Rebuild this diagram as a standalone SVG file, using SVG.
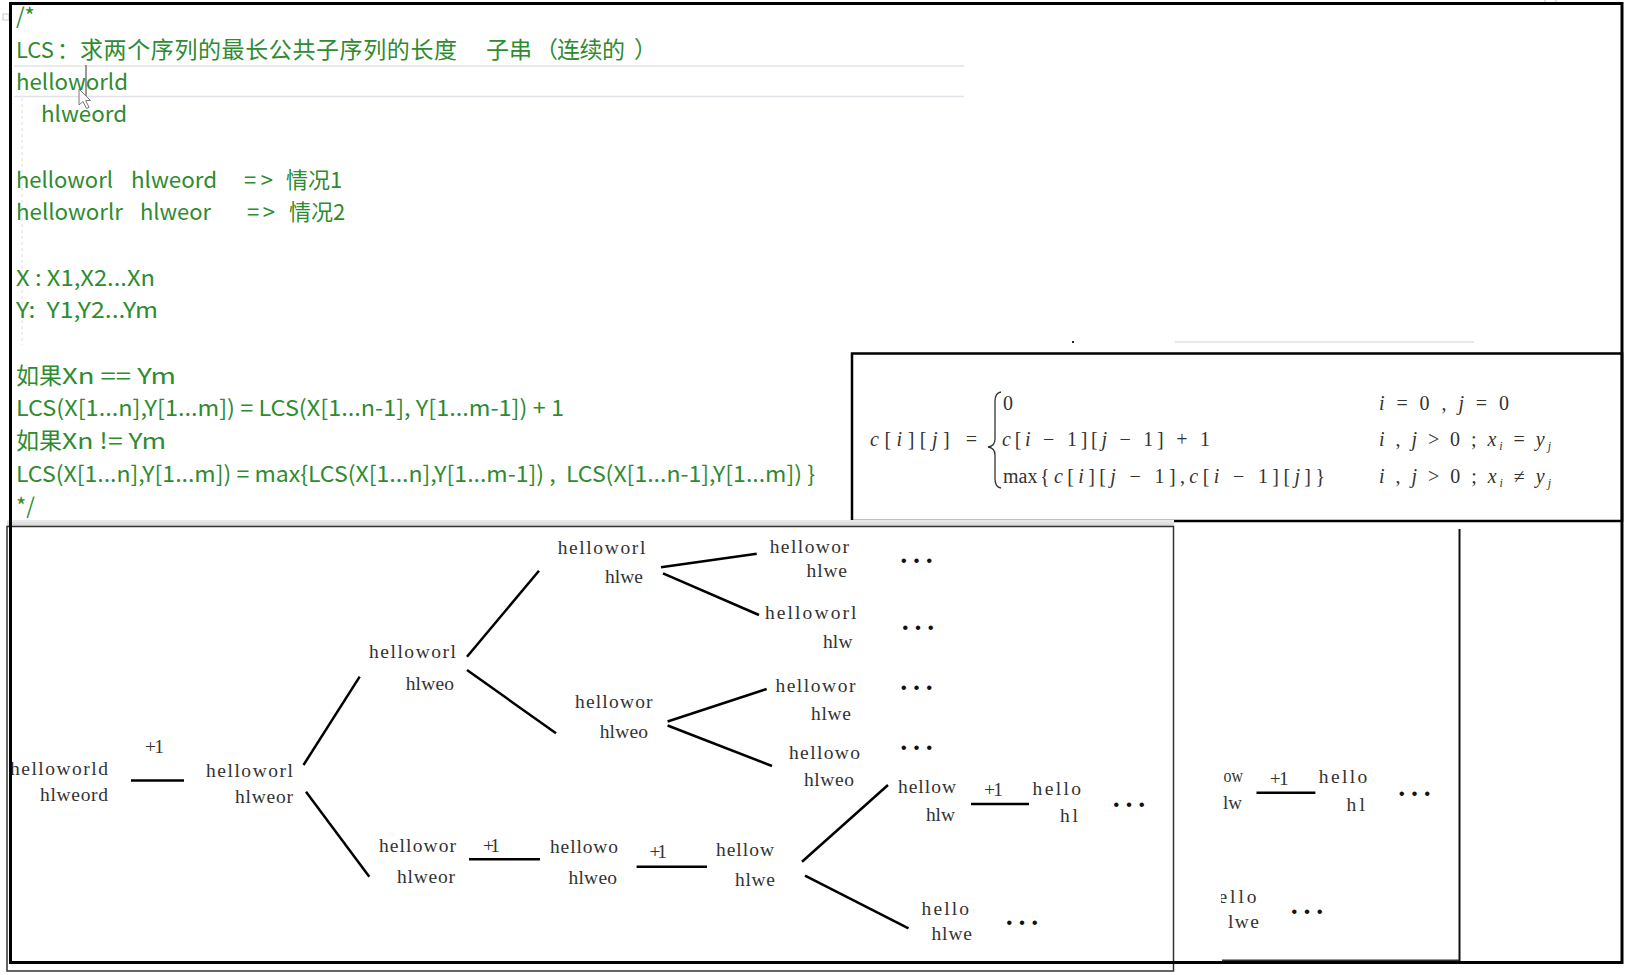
<svg xmlns="http://www.w3.org/2000/svg" width="1643" height="975" viewBox="0 0 1643 975">
<defs>
<style>
.g{fill:#2e8b30;font-family:"Noto Sans CJK SC","Noto Sans",sans-serif;font-size:22px;white-space:pre}
.c{font-size:23px}
.t{fill:#333;font-family:"Liberation Serif","Noto Sans CJK SC",serif;font-size:19.5px}
.dots{fill:#111;font-family:"Liberation Serif",serif;font-size:38px;text-anchor:middle}
.f{fill:#333;font-family:"Liberation Serif",serif;font-size:20px;white-space:pre}
.i{font-style:italic}
.e{stroke:#000;stroke-width:2.5;fill:none}
.frame{fill:none;stroke:#000}
</style>
<linearGradient id="band" x1="0" y1="0" x2="0" y2="1">
<stop offset="0" stop-color="#ececec"/>
<stop offset="1" stop-color="#d6d6d6"/>
</linearGradient>
<clipPath id="cpR"><rect x="1221" y="530" width="240" height="430"/></clipPath>
</defs>
<rect x="0" y="0" width="1643" height="975" fill="#fff"/>

<g id="editor-decor">
<line x1="14" y1="66" x2="964" y2="66" stroke="#e3e3ea" stroke-width="1.5"/>
<line x1="14" y1="96.5" x2="964" y2="96.5" stroke="#e3e3ea" stroke-width="1.5"/>
<line x1="22" y1="98" x2="22" y2="345" stroke="#dedede" stroke-width="1" stroke-dasharray="3 3"/>
<rect x="3" y="14" width="6" height="6" fill="none" stroke="#c8c8c8" stroke-width="1"/>
<line x1="86" y1="65" x2="86" y2="96" stroke="#555" stroke-width="1.2"/>
<polygon points="79,89 79,105 83,101.5 86.5,108.5 89,107.3 85.7,100.5 90.5,100.5" fill="#fff" stroke="#777" stroke-width="1"/>
<line x1="1175" y1="342" x2="1474" y2="342" stroke="#dde3ea" stroke-width="1.5"/>
<rect x="1072" y="341" width="2" height="2" fill="#222"/>
<rect x="1545" y="-2" width="11" height="5" fill="none" stroke="#bbb" stroke-width="1"/>
</g>

<g id="code">
<text class="g" x="16" y="24">/*</text>
<text class="g" y="58"><tspan x="16">LCS</tspan><tspan x="57">：</tspan><tspan x="80" class="c" textLength="377">求两个序列的最长公共子序列的长度</tspan><tspan x="486" class="c">子串</tspan><tspan x="535" class="c">（</tspan><tspan x="557" class="c" textLength="68">连续的</tspan><tspan x="634" class="c">）</tspan></text>
<text class="g" x="16" y="89.5" textLength="112" lengthAdjust="spacingAndGlyphs">helloworld</text>
<text class="g" x="41" y="122" textLength="86" lengthAdjust="spacingAndGlyphs">hlweord</text>
<text class="g" y="187.5"><tspan x="16" textLength="97" lengthAdjust="spacingAndGlyphs">helloworl</tspan><tspan x="131" textLength="86" lengthAdjust="spacingAndGlyphs">hlweord</tspan><tspan x="244" textLength="29">=&gt;</tspan><tspan x="286">情况1</tspan></text>
<text class="g" y="220"><tspan x="16" textLength="107" lengthAdjust="spacingAndGlyphs">helloworlr</tspan><tspan x="140" textLength="71" lengthAdjust="spacingAndGlyphs">hlweor</tspan><tspan x="247" textLength="28">=&gt;</tspan><tspan x="289">情况2</tspan></text>
<text class="g" x="16" y="285.5" textLength="139" lengthAdjust="spacingAndGlyphs">X : X1,X2...Xn</text>
<text class="g" x="16" y="318" textLength="142" lengthAdjust="spacingAndGlyphs">Y:  Y1,Y2...Ym</text>
<text class="g" y="383.5"><tspan x="16" class="c">如果</tspan><tspan x="62" textLength="114" lengthAdjust="spacingAndGlyphs">Xn == Ym</tspan></text>
<text class="g" x="16" y="416" textLength="548" lengthAdjust="spacingAndGlyphs">LCS(X[1...n],Y[1...m]) = LCS(X[1...n-1], Y[1...m-1]) + 1</text>
<text class="g" y="449"><tspan x="16" class="c">如果</tspan><tspan x="62" textLength="104" lengthAdjust="spacingAndGlyphs">Xn != Ym</tspan></text>
<text class="g" x="16" y="481.5" textLength="799" lengthAdjust="spacingAndGlyphs">LCS(X[1...n],Y[1...m]) = max{LCS(X[1...n],Y[1...m-1]) ,  LCS(X[1...n-1],Y[1...m]) }</text>
<text class="g" x="16" y="514">*/</text>
</g>

<g id="formula">
<rect x="852" y="353.5" width="770" height="167.5" fill="none" stroke="#000" stroke-width="2.5"/>
<text class="f" x="870" y="446" textLength="107"><tspan class="i">c</tspan>[<tspan class="i">i</tspan>][<tspan class="i">j</tspan>] =</text>
<path d="M1001,392 Q995,393 995,401 L995,439 Q995,446 988,447 Q995,448 995,455 L995,479 Q995,487 1001,488" fill="none" stroke="#333" stroke-width="1.3"/>
<text class="f" x="1003" y="410">0</text>
<text class="f" x="1002" y="446" textLength="208"><tspan class="i">c</tspan>[<tspan class="i">i</tspan> − 1][<tspan class="i">j</tspan> − 1] + 1</text>
<text class="f" x="1003" y="483">max</text>
<text class="f" x="1040" y="483" textLength="285">{<tspan class="i">c</tspan>[<tspan class="i">i</tspan>][<tspan class="i">j</tspan> − 1],<tspan class="i">c</tspan>[<tspan class="i">i</tspan> − 1][<tspan class="i">j</tspan>]}</text>
<text class="f" x="1379" y="410" textLength="130"><tspan class="i">i</tspan> = 0 , <tspan class="i">j</tspan> = 0</text>
<text class="f" x="1379" y="446" textLength="172"><tspan class="i">i</tspan> , <tspan class="i">j</tspan> &gt; 0 ; <tspan class="i">x</tspan><tspan class="i" font-size="12" dy="4">i</tspan><tspan dy="-4"> = </tspan><tspan class="i">y</tspan><tspan class="i" font-size="12" dy="4">j</tspan></text>
<text class="f" x="1379" y="483" textLength="172"><tspan class="i">i</tspan> , <tspan class="i">j</tspan> &gt; 0 ; <tspan class="i">x</tspan><tspan class="i" font-size="12" dy="4">i</tspan><tspan dy="-4"> ≠ </tspan><tspan class="i">y</tspan><tspan class="i" font-size="12" dy="4">j</tspan></text>
</g>

<g id="panels">
<rect x="7" y="520" width="1167" height="6" fill="url(#band)"/>
<rect x="7" y="526.5" width="1166.5" height="444.5" fill="none" stroke="#333" stroke-width="1.5"/>
<line x1="1459.5" y1="529" x2="1459.5" y2="961" stroke="#111" stroke-width="2"/>
<line x1="1222" y1="960.5" x2="1459" y2="960.5" stroke="#333" stroke-width="2"/>
</g>

<g id="connectors">
<line class="e" x1="131" y1="780.5" x2="184" y2="780.5"/>
<line class="e" x1="303.5" y1="765" x2="359.7" y2="676.7"/>
<line class="e" x1="306" y1="791.7" x2="369.3" y2="876.7"/>
<line class="e" x1="467" y1="656.7" x2="539" y2="570.7"/>
<line class="e" x1="467" y1="670" x2="556" y2="733.3"/>
<line class="e" x1="661" y1="567.3" x2="756.7" y2="553.7"/>
<line class="e" x1="663" y1="573.3" x2="759" y2="615"/>
<line class="e" x1="667.6" y1="721.5" x2="766.7" y2="689"/>
<line class="e" x1="667.6" y1="725.5" x2="772" y2="766"/>
<line class="e" x1="469" y1="859.3" x2="540" y2="859.3"/>
<line class="e" x1="636.6" y1="866.7" x2="707" y2="866.7"/>
<line class="e" x1="802" y1="861.7" x2="888" y2="785"/>
<line class="e" x1="805" y1="875.7" x2="908.5" y2="928.3"/>
<line class="e" x1="971" y1="804" x2="1029" y2="804"/>
<line class="e" x1="1256.5" y1="792.7" x2="1315.4" y2="792.7"/>
</g>

<g id="n-root"><text class="t" x="10" y="775" textLength="98">helloworld</text><text class="t" x="40" y="800.5" textLength="68">hlweord</text></g>
<g id="l-plus1-a"><text class="t" x="145" y="753" textLength="19">+1</text></g>
<g id="n-2"><text class="t" x="206" y="777" textLength="87">helloworl</text><text class="t" x="235" y="803" textLength="58">hlweor</text></g>
<g id="n-3"><text class="t" x="369" y="658" textLength="87">helloworl</text><text class="t" x="405.7" y="690" textLength="48.3">hlweo</text></g>
<g id="n-4"><text class="t" x="557.7" y="554" textLength="87.6">helloworl</text><text class="t" x="605" y="583" textLength="38">hlwe</text></g>
<g id="n-5"><text class="t" x="769.7" y="553" textLength="79.3">hellowor</text><text class="t" x="806.6" y="577" textLength="40.4">hlwe</text></g>
<g id="d-5"><text class="dots" x="916.5" y="562.5">…</text></g>
<g id="n-6"><text class="t" x="765" y="619" textLength="91.5">helloworl</text><text class="t" x="823" y="648" textLength="29.5">hlw</text></g>
<g id="d-6"><text class="dots" x="918" y="629.5">…</text></g>
<g id="n-7"><text class="t" x="575" y="708" textLength="77.6">hellowor</text><text class="t" x="599.7" y="738" textLength="48.3">hlweo</text></g>
<g id="n-8"><text class="t" x="775.4" y="692" textLength="80">hellowor</text><text class="t" x="811" y="720" textLength="40">hlwe</text></g>
<g id="d-8"><text class="dots" x="916.5" y="690">…</text></g>
<g id="n-9"><text class="t" x="789" y="759" textLength="71">hellowo</text><text class="t" x="804" y="786" textLength="50">hlweo</text></g>
<g id="d-9"><text class="dots" x="916.5" y="749.5">…</text></g>
<g id="n-10"><text class="t" x="379" y="852" textLength="77">hellowor</text><text class="t" x="397" y="883" textLength="58">hlweor</text></g>
<g id="l-plus1-b"><text class="t" x="483" y="852" textLength="17">+1</text></g>
<g id="n-11"><text class="t" x="550" y="853" textLength="68">hellowo</text><text class="t" x="568.5" y="884" textLength="48.5">hlweo</text></g>
<g id="l-plus1-c"><text class="t" x="649.6" y="858" textLength="17.4">+1</text></g>
<g id="n-12"><text class="t" x="716" y="856" textLength="58">hellow</text><text class="t" x="735" y="886" textLength="40">hlwe</text></g>
<g id="n-13"><text class="t" x="898" y="793" textLength="58">hellow</text><text class="t" x="926" y="821" textLength="29">hlw</text></g>
<g id="l-plus1-d"><text class="t" x="984" y="796" textLength="19">+1</text></g>
<g id="n-14"><text class="t" x="1032.5" y="795" textLength="48.5">hello</text><text class="t" x="1060" y="822" textLength="18">hl</text></g>
<g id="d-14"><text class="dots" x="1129" y="806.5">…</text></g>
<g id="n-15"><text class="t" x="921.5" y="915" textLength="47.5">hello</text><text class="t" x="931.5" y="940" textLength="40.5">hlwe</text></g>
<g id="d-15"><text class="dots" x="1022" y="924.5">…</text></g>

<g id="n-r1"><text class="t" x="1223.6" y="782" textLength="19.5" lengthAdjust="spacingAndGlyphs">ow</text><text class="t" x="1223" y="809" textLength="19" lengthAdjust="spacingAndGlyphs">lw</text></g>
<g id="l-plus1-e"><text class="t" x="1269.7" y="785" textLength="19">+1</text></g>
<g id="n-r2"><text class="t" x="1318.8" y="783" textLength="48.5">hello</text><text class="t" x="1346.5" y="811" textLength="18.5">hl</text></g>
<g id="d-r2"><text class="dots" x="1414.5" y="795.5">…</text></g>
<g id="n-r3" clip-path="url(#cpR)"><text class="t" x="1218.5" y="903" textLength="38">ello</text><text class="t" x="1228" y="928" textLength="31">lwe</text></g>
<g id="d-r3"><text class="dots" x="1307" y="913.5">…</text></g>

<g id="outer-frame">
<rect class="frame" x="10.5" y="3.5" width="1611.5" height="959" stroke-width="3"/>
</g>
</svg>
